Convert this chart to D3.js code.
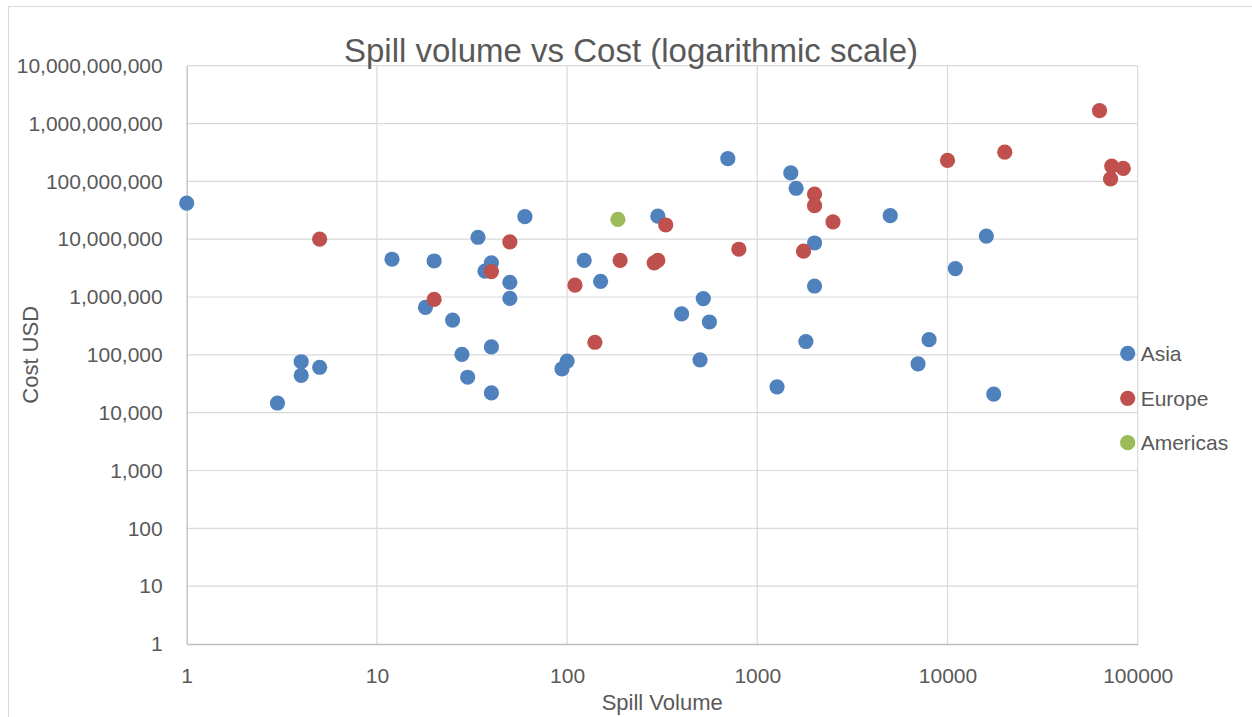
<!DOCTYPE html>
<html>
<head>
<meta charset="utf-8">
<script src="https://cdn.jsdelivr.net/npm/d3@7"></script>
<style>
  html, body { margin: 0; padding: 0; background: #ffffff; }
  svg { display: block; }
  text { font-family: "Liberation Sans", Arial, sans-serif; fill: #595959; }
</style>
</head>
<body>
<svg id="chart" width="1252" height="717"></svg>
<script>
// ---- Data ----
const seriesNames = ["Asia", "Europe", "Americas"];
const seriesColors = ["#4F81BD", "#C0504D", "#9BBB59"];

const asiaVolume = [1, 60, 34, 12, 20, 40, 37, 50, 50, 123, 18, 25, 40, 28, 30, 40, 4, 4, 5, 3, 100, 94,
  700, 1500, 1600, 5000, 300, 2000, 11000, 16000, 150, 2000, 520, 400, 560, 500, 1800, 1270, 8000, 7000, 17500];
const asiaCost = [4.2e7, 2.45e7, 1.08e7, 4.5e6, 4.2e6, 3.9e6, 2.8e6, 1.8e6, 9.5e5, 4.3e6, 6.6e5, 4.0e5, 1.37e5, 1.02e5, 4.1e4, 2.2e4, 7.6e4, 4.4e4, 6.1e4, 1.47e4, 7.8e4, 5.7e4,
  2.47e8, 1.4e8, 7.6e7, 2.55e7, 2.5e7, 8.6e6, 3.1e6, 1.13e7, 1.87e6, 1.55e6, 9.4e5, 5.1e5, 3.7e5, 8.2e4, 1.7e5, 2.8e4, 1.83e5, 7.0e4, 2.1e4];

const europeVolume = [5, 50, 40, 110, 20, 140, 190, 287, 300, 330, 800, 1750, 2000, 2000, 2500, 10000, 20000, 63000, 73000, 84000, 72000];
const europeCost = [1.0e7, 9.0e6, 2.75e6, 1.6e6, 9.1e5, 1.65e5, 4.3e6, 3.9e6, 4.3e6, 1.76e7, 6.7e6, 6.2e6, 6.0e7, 3.8e7, 2.0e7, 2.3e8, 3.2e8, 1.67e9, 1.84e8, 1.68e8, 1.1e8];

const americasVolume = [185];
const americasCost = [2.2e7];

const xTicks = [1, 10, 100, 1000, 10000, 100000];
const yTicks = [1, 10, 100, 1000, 1e4, 1e5, 1e6, 1e7, 1e8, 1e9, 1e10];

const titleText = "Spill volume vs Cost (logarithmic scale)";
const xTitle = "Spill Volume";
const yTitle = "Cost USD";

// ---- Build series ----
const series = [
  { name: seriesNames[0], color: seriesColors[0], pts: asiaVolume.map((v, i) => [v, asiaCost[i]]) },
  { name: seriesNames[1], color: seriesColors[1], pts: europeVolume.map((v, i) => [v, europeCost[i]]) },
  { name: seriesNames[2], color: seriesColors[2], pts: americasVolume.map((v, i) => [v, americasCost[i]]) }
];

// ---- Layout ----
const plot = { left: 186.7, right: 1137.7, top: 65.7, bottom: 644 };
const svg = d3.select("#chart");

// chart border (open to the right / bottom as in the reference)
svg.append("rect")
  .attr("x", 8.5).attr("y", 6.5)
  .attr("width", 1300).attr("height", 800)
  .attr("fill", "#ffffff")
  .attr("stroke", "#D9D9D9").attr("stroke-width", 1);

const x = d3.scaleLog().domain([1, 100000]).range([plot.left, plot.right]);
const y = d3.scaleLog().domain([1, 1e10]).range([plot.bottom, plot.top]);

// gridlines
const grid = svg.append("g");
grid.selectAll("line.h").data(yTicks.slice(1)).join("line")
  .attr("x1", plot.left).attr("x2", plot.right)
  .attr("y1", d => y(d)).attr("y2", d => y(d))
  .attr("stroke", "#D9D9D9").attr("stroke-width", 1.2);
grid.selectAll("line.v").data(xTicks.slice(1)).join("line")
  .attr("x1", d => x(d)).attr("x2", d => x(d))
  .attr("y1", plot.top).attr("y2", plot.bottom)
  .attr("stroke", "#D9D9D9").attr("stroke-width", 1.2);

// axes
const xAxis = d3.axisBottom(x).tickValues(xTicks).tickFormat(d => String(d)).tickSize(0).tickPadding(24);
const yAxis = d3.axisLeft(y).tickValues(yTicks).tickFormat(d3.format(",")).tickSize(0).tickPadding(24);

const gx = svg.append("g").attr("transform", `translate(0,${plot.bottom})`).call(xAxis);
const gy = svg.append("g").attr("transform", `translate(${plot.left},0)`).call(yAxis);
[gx, gy].forEach(g => {
  g.select(".domain").attr("stroke", "#BFBFBF").attr("stroke-width", 1.3);
  g.selectAll("text").style("font-family", '"Liberation Sans", Arial, sans-serif')
    .style("font-size", "21px").attr("fill", "#595959");
});

// points
series.forEach(s => {
  svg.append("g").selectAll("circle").data(s.pts).join("circle")
    .attr("cx", d => x(d[0])).attr("cy", d => y(d[1]))
    .attr("r", 7.6)
    .attr("fill", s.color);
});

// titles
svg.append("text")
  .attr("x", 631).attr("y", 62)
  .attr("text-anchor", "middle")
  .style("font-size", "33px")
  .text(titleText);

svg.append("text")
  .attr("x", (plot.left + plot.right) / 2).attr("y", 710)
  .attr("text-anchor", "middle")
  .style("font-size", "22px")
  .text(xTitle);

svg.append("text")
  .attr("transform", `translate(38,${(plot.top + plot.bottom) / 2}) rotate(-90)`)
  .attr("text-anchor", "middle")
  .style("font-size", "22px")
  .text(yTitle);

// legend
const legendY = [353.3, 398.3, 442.7];
const legend = svg.append("g");
series.forEach((s, i) => {
  legend.append("circle")
    .attr("cx", 1127.7).attr("cy", legendY[i]).attr("r", 7.6)
    .attr("fill", s.color);
  legend.append("text")
    .attr("x", 1140.7).attr("y", legendY[i]).attr("dy", "0.36em")
    .style("font-size", "21px")
    .text(s.name);
});
</script>
</body>
</html>
